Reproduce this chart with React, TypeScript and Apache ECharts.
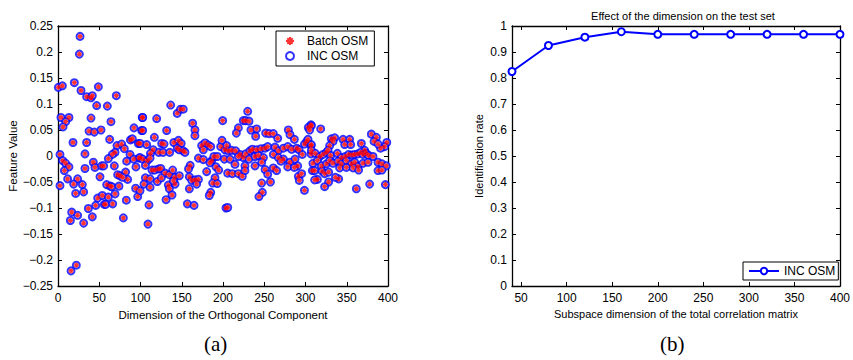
import React, { useEffect, useRef } from "react";
import * as echarts from "echarts";

// ---- Panel (a): feature values of the orthogonal component ----
const featurePoints: [number, number][] = [
  [26.7,0.230],[25.9,0.196],[0.4,0.132],[5.3,0.135],[19.8,0.141],[27.9,0.126],[48.9,0.133],[34.7,0.114],[40,0.112],[41.6,0.116],
  [70.7,0.116],[46.9,0.097],[59.8,0.096],[3.6,0.074],[13.3,0.074],[9.3,0.066],[6.1,0.056],[40,0.073],[64.2,0.066],[37.6,0.048],
  [44,0.046],[52.1,0.050],[34.7,0.026],[18.2,0.026],[62.6,0.032],[92.1,0.054],[102.2,0.074],[87.7,0.031],[90.1,0.033],[97.4,0.024],
  [101.4,0.049],[2.4,0.003],[32.7,0.004],[71.5,0.020],[77.2,0.023],[80.4,0.014],[69.1,0.007],[65.9,0.003],[61,-0.005],[5.7,-0.009],
  [9.3,-0.014],[13.3,-0.021],[7.7,-0.028],[42.8,-0.012],[44.8,-0.022],[52.9,-0.019],[55.4,-0.019],[32.7,-0.024],[68.3,-0.019],[87.3,0.003],
  [91.7,-0.006],[94.5,-0.021],[98.2,-0.004],[83.2,-0.010],[72.3,-0.036],[75.2,-0.038],[82,-0.031],[84.4,-0.045],[78.4,-0.041],[11.7,-0.044],
  [23.8,-0.044],[29.5,-0.055],[19,-0.054],[2.4,-0.057],[31.1,-0.069],[21.4,-0.072],[50.9,-0.040],[59,-0.055],[63.4,-0.058],[65.1,-0.059],
  [73.9,-0.058],[94.1,-0.062],[48.1,-0.081],[53.7,-0.076],[61,-0.079],[69.1,-0.073],[56.1,-0.093],[57.8,-0.093],[45.7,-0.095],[66.3,-0.092],
  [82.8,-0.085],[96.6,-0.078],[36.8,-0.101],[16.6,-0.108],[23.8,-0.114],[15,-0.124],[31.1,-0.129],[41.6,-0.117],[79.2,-0.119],[22.2,-0.210],
  [15.8,-0.221],
  [136.6,0.098],[144.5,0.082],[148.5,0.090],[151.8,0.090],[102.6,0.074],[119.6,0.072],[163.2,0.063],[199.6,0.068],[102.6,0.049],[131.7,0.049],
  [166,0.050],[166,0.039],[116.8,0.036],[99.4,0.024],[107.5,0.022],[125.7,0.024],[128.5,0.023],[140.4,0.026],[146,0.030],[149.3,0.024],
  [115.3,0.012],[112.1,0.005],[122.2,0.007],[127.3,0.007],[135.4,0.007],[144.5,0.015],[146.9,0.012],[151.8,0.010],[153.9,0.007],[174.1,0.020],
  [178.2,0.025],[182.2,0.021],[185.1,0.018],[176.2,0.012],[197.2,0.018],[198.8,0.030],[202.4,0.012],[99.4,-0.003],[102.6,-0.006],[108.3,-0.009],
  [111.6,-0.004],[105.9,-0.018],[170.2,-0.004],[176.2,-0.007],[186.3,-0.009],[189,-0.001],[193.1,-0.001],[201.6,-0.006],[160.2,-0.018],[158.2,-0.025],
  [180.2,-0.030],[184.2,-0.013],[191.5,-0.021],[194.8,-0.027],[113.9,-0.027],[117.2,-0.027],[122,-0.025],[124.5,-0.024],[129.7,-0.033],[135,-0.036],
  [139,-0.027],[141.5,-0.041],[147.1,-0.038],[105.9,-0.042],[111.6,-0.044],[120.4,-0.049],[125.3,-0.042],[159.2,-0.040],[162.2,-0.047],[166.2,-0.046],
  [170.2,-0.045],[190.3,-0.042],[187.5,-0.052],[193.1,-0.053],[104.2,-0.054],[111.6,-0.060],[133.7,-0.056],[135,-0.063],[141.9,-0.054],[139.8,-0.048],
  [168.1,-0.054],[159.2,-0.063],[185.1,-0.070],[183.4,-0.076],[131,-0.084],[138.2,-0.075],[99.4,-0.067],[110.3,-0.094],[156.8,-0.092],[164.9,-0.095],
  [203.6,-0.100],[109.1,-0.131],
  [229.9,0.086],[224.6,0.068],[227.5,0.068],[231.5,0.067],[218.6,0.054],[216.2,0.044],[233.9,0.050],[240.8,0.052],[239.6,0.038],[251.7,0.044],
  [255.8,0.043],[261,0.043],[266.3,0.034],[279.2,0.050],[281.2,0.041],[286.5,0.032],[303.4,0.055],[306.7,0.060],[204.4,0.020],[206.5,0.010],
  [210.5,0.011],[215.3,0.010],[220.6,0.003],[224.6,-0.003],[227.5,0.004],[232.7,0.010],[235.6,0.013],[240.8,0.012],[246.1,0.014],[251,0.015],
  [254.2,0.018],[263,0.017],[267.1,0.010],[273.2,0.015],[278.5,0.018],[283.3,0.013],[289.4,0.015],[292.2,0.012],[298.7,0.023],[301.5,0.028],
  [306.7,0.020],[208.5,-0.006],[218.6,-0.001],[231.5,-0.006],[238.8,-0.001],[242.9,0.001],[249,-0.003],[261,0.003],[267.1,-0.003],[273.2,-0.006],
  [270.3,-0.010],[281.2,-0.012],[287.3,-0.006],[290.5,-0.019],[296.1,0.003],[306.7,0.004],[214.5,-0.016],[226.6,-0.019],[238.8,-0.019],[246.9,-0.012],
  [205.7,-0.033],[211.3,-0.034],[218.6,-0.034],[223.4,-0.039],[226.6,-0.028],[251,-0.026],[261,-0.023],[265,-0.028],[278.5,-0.021],[286.5,-0.022],
  [254.2,-0.035],[257.5,-0.050],[291.3,-0.039],[292.5,-0.047],[295.3,-0.034],[246.9,-0.052],[298.7,-0.066],[308.3,-0.028],[247.7,-0.070],[243.6,-0.078],
  [205.7,-0.099],
  [318.4,0.052],[307.1,0.058],[305,0.050],[303,0.032],[307.1,0.022],[331.3,0.033],[335.4,0.035],[333.3,0.028],[329.3,0.020],[345.5,0.032],
  [353.5,0.032],[347.5,0.022],[354.8,0.022],[379.8,0.042],[385.9,0.036],[383.1,0.028],[398.5,0.026],[395.8,0.018],[391,0.015],[387.9,0.023],
  [367.7,0.024],[371.7,0.011],[307.1,0.011],[311.9,0.005],[317.2,-0.001],[321.2,0.003],[325.3,0.007],[327.3,0.011],[330.5,0.001],[338.6,0.005],
  [343.4,-0.003],[348.3,-0.001],[352.3,0.003],[356.4,0.002],[359.6,0.003],[363.6,0.004],[366.9,0.007],[369.6,0.003],[373.7,0.005],[376.5,0.001],
  [381.8,-0.001],[309,-0.014],[314.4,-0.009],[319.2,-0.019],[325.3,-0.015],[329.3,-0.009],[333.3,-0.014],[339.4,-0.010],[343.4,-0.015],[349.5,-0.009],
  [355.6,-0.015],[359.6,-0.012],[363.6,-0.020],[369.6,-0.014],[375.8,-0.012],[387.9,-0.012],[392.7,-0.015],[398,-0.019],[311.1,-0.028],[320,-0.029],
  [323.2,-0.034],[328.1,-0.031],[341.4,-0.023],[349.5,-0.022],[357.6,-0.023],[364.4,-0.027],[387.9,-0.028],[392.7,-0.027],[314.4,-0.045],[311.1,-0.046],
  [328.1,-0.050],[340.2,-0.044],[323.2,-0.059],[336.2,-0.041],[361.6,-0.063],[377.8,-0.054],[396.8,-0.055],
];

// ---- Panel (b): identification rate vs subspace dimension ----
const subspaceDims = [40, 80, 120, 160, 200, 240, 280, 320, 360, 400];
const identRates = [0.825, 0.925, 0.957, 0.978, 0.968, 0.968, 0.968, 0.968, 0.968, 0.968];
const dimTickValues = [50, 100, 150, 200, 250, 300, 350, 400];

const FONT = "Liberation Sans, Arial, Helvetica, sans-serif";
const ASTERISK = "path://M5 0 L5 10 M0 5 L10 5 M1.6 1.6 L8.4 8.4 M8.4 1.6 L1.6 8.4";

const fmtA = (v: number) => {
  const r = Math.round(v * 100) / 100;
  return String(r).replace("-", "\u2212");
};

export default function App() {
  const ref = useRef<HTMLDivElement>(null);
  useEffect(() => {
    if (!ref.current) return;
    const chart = echarts.init(ref.current, null, { renderer: "svg" });
    const axisLine = { show: true, onZero: false, lineStyle: { color: "#000", width: 1.3 } };
    const tick = { show: true, inside: true, length: 4, lineStyle: { color: "#000" } };
    const label = { color: "#000", fontSize: 12, fontFamily: FONT };
    const nameStyle = { color: "#000", fontSize: 11.5, fontFamily: FONT };
    chart.setOption({
      animation: false,
      backgroundColor: "#fff",
      title: {
        text: "Effect of the dimension on the test set",
        left: 678,
        textAlign: "center",
        top: 5,
        textStyle: { color: "#000", fontSize: 11, fontWeight: "normal", fontFamily: FONT },
      },
      grid: [
        { left: 58, top: 26, width: 330, height: 260 },
        { left: 512, top: 26, width: 333, height: 260 },
      ],
      legend: [
        {
          data: ["Batch OSM", "INC OSM"],
          orient: "vertical",
          left: 276,
          top: 31,
          itemWidth: 24,
          itemHeight: 8,
          itemGap: 3,
          padding: [4, 6, 4, 9],
          borderColor: "#000",
          borderWidth: 1,
          backgroundColor: "#fff",
          textStyle: { color: "#000", fontSize: 12, fontFamily: FONT },
          selectedMode: false,
        },
        {
          data: ["INC OSM (b)"],
          formatter: () => "INC OSM",
          left: 743,
          top: 262,
          itemWidth: 30,
          itemHeight: 8,
          padding: [3, 3, 3, 5],
          borderColor: "#000",
          borderWidth: 1,
          backgroundColor: "#fff",
          textStyle: { color: "#000", fontSize: 12, fontFamily: FONT },
          selectedMode: false,
        },
      ],
      xAxis: [
        {
          gridIndex: 0, type: "value", min: 0, max: 400, interval: 50, position: "bottom",
          axisLine, axisTick: tick, axisLabel: { ...label, margin: 6 }, splitLine: { show: false },
          name: "Dimension of the Orthogonal Component", nameLocation: "middle", nameGap: 18, nameTextStyle: nameStyle,
        },
        {
          gridIndex: 0, type: "value", min: 0, max: 400, interval: 50, position: "top",
          axisLine, axisTick: tick, axisLabel: { show: false }, splitLine: { show: false },
        },
        {
          gridIndex: 1, type: "value", min: 40, max: 400, position: "bottom",
          axisLine,
          axisTick: { ...tick, customValues: dimTickValues },
          axisLabel: { ...label, margin: 6, customValues: dimTickValues },
          splitLine: { show: false },
          name: "Subspace dimension of the total correlation matrix", nameLocation: "middle", nameGap: 18,
          nameTextStyle: { ...nameStyle, fontSize: 11 },
        },
        {
          gridIndex: 1, type: "value", min: 40, max: 400, position: "top",
          axisLine, axisTick: { ...tick, customValues: dimTickValues }, axisLabel: { show: false }, splitLine: { show: false },
        },
      ],
      yAxis: [
        {
          gridIndex: 0, type: "value", min: -0.25, max: 0.25, interval: 0.05, position: "left",
          axisLine, axisTick: tick, axisLabel: { ...label, margin: 5, formatter: fmtA }, splitLine: { show: false },
          name: "Feature Value", nameLocation: "middle", nameGap: 37, nameTextStyle: nameStyle,
        },
        {
          gridIndex: 0, type: "value", min: -0.25, max: 0.25, interval: 0.05, position: "right",
          axisLine, axisTick: tick, axisLabel: { show: false }, splitLine: { show: false },
        },
        {
          gridIndex: 1, type: "value", min: 0, max: 1, interval: 0.1, position: "left",
          axisLine, axisTick: tick, axisLabel: { ...label, margin: 5 }, splitLine: { show: false },
          name: "Identification rate", nameLocation: "middle", nameGap: 28, nameTextStyle: { ...nameStyle, fontSize: 11 },
        },
        {
          gridIndex: 1, type: "value", min: 0, max: 1, interval: 0.1, position: "right",
          axisLine, axisTick: tick, axisLabel: { show: false }, splitLine: { show: false },
        },
      ],
      graphic: [
        { type: "text", left: 204, top: 333, style: { text: "(a)", fontSize: 21, fontFamily: "Liberation Serif, Times New Roman, serif", fill: "#000" } },
        { type: "text", left: 660, top: 333, style: { text: "(b)", fontSize: 21, fontFamily: "Liberation Serif, Times New Roman, serif", fill: "#000" } },
      ],
      series: [
        {
          name: "INC OSM",
          type: "scatter",
          xAxisIndex: 0,
          yAxisIndex: 0,
          data: featurePoints,
          symbol: "emptyCircle",
          symbolSize: 7,
          itemStyle: { color: "#0000ff", borderColor: "#0000ff", borderWidth: 2 },
          z: 2,
        },
        {
          name: "Batch OSM",
          type: "scatter",
          xAxisIndex: 0,
          yAxisIndex: 0,
          data: featurePoints,
          symbol: ASTERISK,
          symbolSize: 5,
          symbolKeepAspect: true,
          itemStyle: { color: "#ff0000", borderColor: "#ff0000", borderWidth: 1.3 },
          z: 3,
        },
        {
          name: "INC OSM (b)",
          type: "line",
          xAxisIndex: 2,
          yAxisIndex: 2,
          data: subspaceDims.map((d, i) => [d, identRates[i]]),
          symbol: "emptyCircle",
          symbolSize: 7,
          showAllSymbol: true,
          lineStyle: { color: "#0000ff", width: 2 },
          itemStyle: { color: "#0000ff", borderColor: "#0000ff", borderWidth: 1.6 },
        },
      ],
    });
    return () => chart.dispose();
  }, []);
  return <div ref={ref} style={{ position: "fixed", left: 0, top: 0, width: 853, height: 360, background: "#fff" }} />;
}
